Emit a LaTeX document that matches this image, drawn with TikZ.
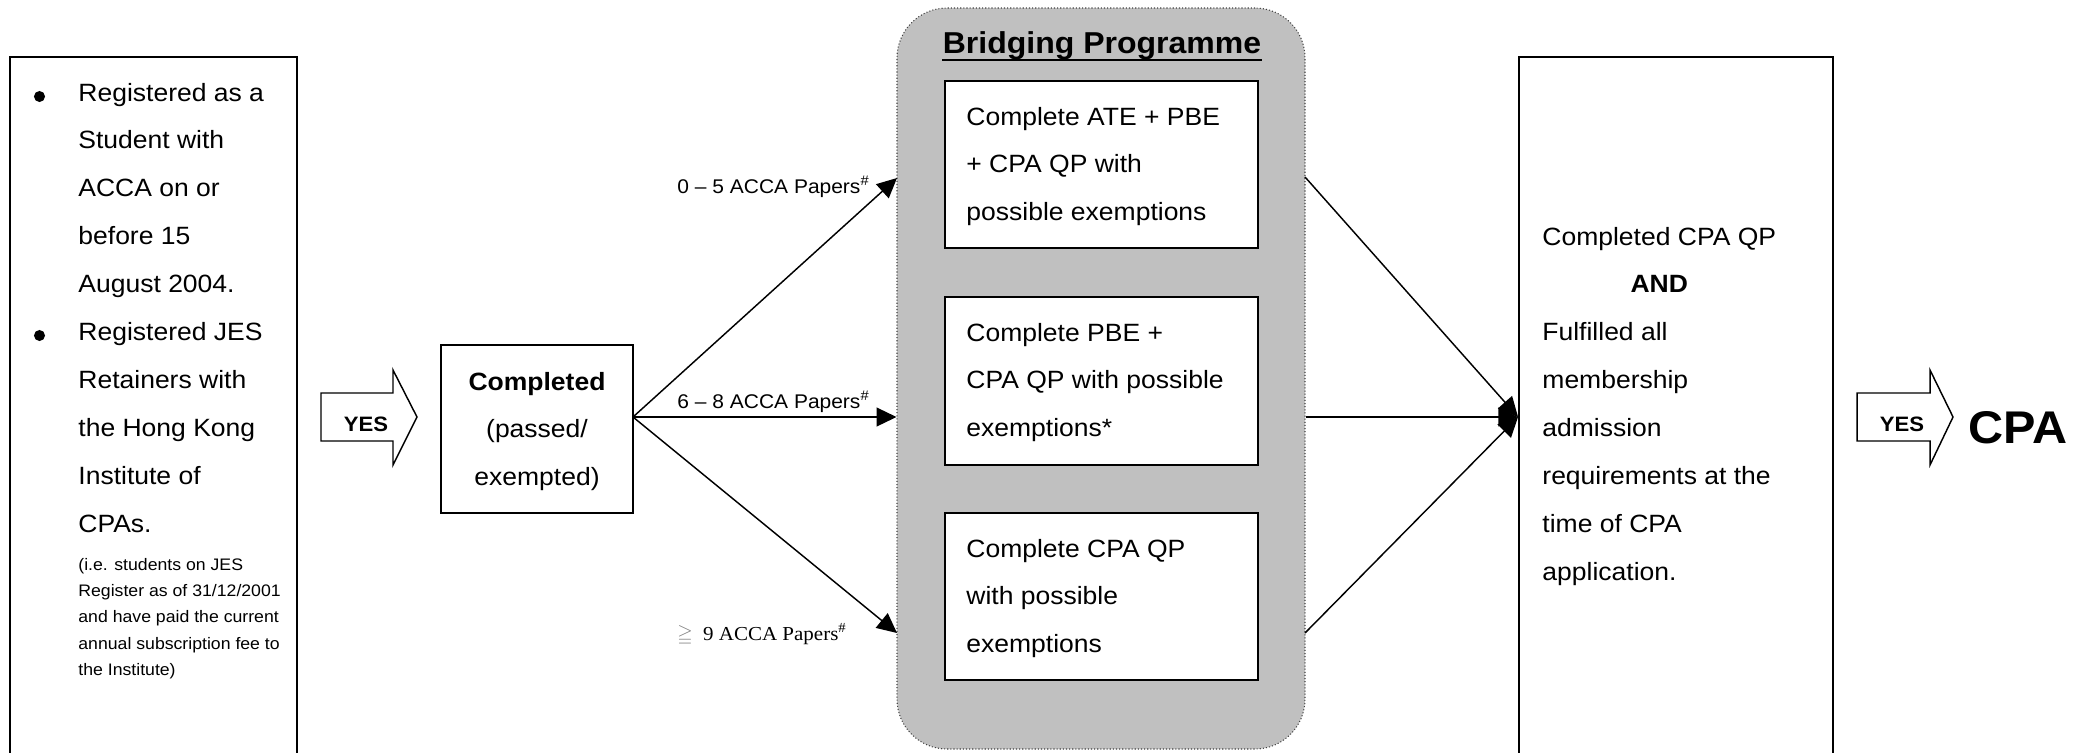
\documentclass[tikz,border=0pt]{standalone}
\usepackage{fontspec}
\usepackage{amssymb}
\setmainfont{Liberation Sans}[FakeStretch=1.06]
\newfontfamily\paperserif{Liberation Serif}[FakeStretch=1.06]
\usetikzlibrary{fit,arrows.meta}
\definecolor{bridgegray}{RGB}{192,192,192}
\tikzset{
  box/.style={draw, line width=0.9pt, inner sep=0pt},
  txt/.style={inner sep=0pt, anchor=base west, font=\fontsize{12}{23}\selectfont},
  papers/.style={inner sep=0pt, anchor=base west, font=\fontsize{9.5}{11}\selectfont},
  route/.style={line width=0.7pt, -{Triangle[length=9.5pt,width=9pt]}},
  yesarrow/.style={draw, line width=0.7pt, fill=white},
  yes/.style={inner sep=0pt, anchor=base, font=\fontsize{10}{12}\selectfont\bfseries},
  dot/.style={circle, fill, inner sep=0pt, minimum size=5.3pt}
}
\begin{document}
\begin{tikzpicture}[x=0.48pt, y=-0.48pt]
\useasboundingbox (0,0) rectangle (2085,752);
\clip (0,0) rectangle (2085,752);

% eligibility
\node (elig) [box, fit={(10,57) (297,790)}] {};
\node (dot1) [dot] at (39.5,96.5) {};
\node (dot2) [dot] at (39.5,335.5) {};
\node (eligtext) [txt] at (78,101) {
\begin{tabular}[t]{@{}l@{}}
  Registered as a \\
  Student with \\
  ACCA on or \\
  before 15 \\
  August 2004. \\
  Registered JES \\
  Retainers with \\
  the Hong Kong \\
  Institute of \\
  CPAs.
\end{tabular}
};
\node (note) [inner sep=0pt, anchor=base west, font=\fontsize{8}{12.7}\selectfont] at (78,570) {
\begin{tabular}[t]{@{}l@{}}
  (i.e. students on JES \\
  Register as of 31/12/2001 \\
  and have paid the current \\
  annual subscription fee to \\
  the Institute)
\end{tabular}
};

\draw [yesarrow] (321,393) -- (393,393) -- (393,370) -- (417,417) -- (393,465) -- (393,441) -- (321,441) -- cycle;
\node (yes1) [yes] at (366,431) {YES};

% completed
\node (done) [box, fit={(441,345) (633,513)}] {};
\node (donetext) [txt, anchor=base] at (537,390) {
\begin{tabular}[t]{@{}c@{}}
  \textbf{Completed} \\
  (passed/ \\
  exempted)
\end{tabular}
};

% bridging programme
\node (bridge) [fit={(897,8) (1305,749)}, inner sep=0pt, draw=black!75, densely dotted, line width=0.5pt, fill=bridgegray, rounded corners=24pt] {};
\node (title) [inner sep=0pt, anchor=base, font=\fontsize{14.5}{17}\selectfont\bfseries] at (1102,53) {Bridging Programme};
\draw [line width=1pt] ([yshift=-3.4pt]title.base west) -- ([yshift=-3.4pt]title.base east);

\node (ate) [box, fill=white, fit={(945,81) (1258,248)}] {};
\node (pbe) [box, fill=white, fit={(945,297) (1258,465)}] {};
\node (qp) [box, fill=white, fit={(945,513) (1258,680)}] {};
\node (atetext) [txt] at (966,125) {
\begin{tabular}[t]{@{}l@{}}
  Complete ATE + PBE \\
  + CPA QP with \\
  possible exemptions
\end{tabular}
};
\node (pbetext) [txt] at (966,341) {
\begin{tabular}[t]{@{}l@{}}
  Complete PBE + \\
  CPA QP with possible \\
  exemptions*
\end{tabular}
};
\node (qptext) [txt] at (966,557) {
\begin{tabular}[t]{@{}l@{}}
  Complete CPA QP \\
  with possible \\
  exemptions
\end{tabular}
};

% qualification
\node (quals) [box, fit={(1519,57) (1833,790)}] {};
\node (qualstext) [txt] at (1542,245) {
\begin{tabular}[t]{@{}l@{}}
  Completed CPA QP \\
  \multicolumn{1}{@{}c@{}}{\textbf{AND}} \\
  Fulfilled all \\
  membership \\
  admission \\
  requirements at the \\
  time of CPA \\
  application.
\end{tabular}
};

\coordinate (split) at (633,417);
\coordinate (in1) at (897,178);
\coordinate (in2) at (bridge.west |- split);
\coordinate (in3) at (897,633);
\coordinate (out1) at (1305,177);
\coordinate (out2) at (bridge.east |- split);
\coordinate (out3) at (1305,633);
\coordinate (join) at (quals.west |- split);
\foreach \i in {1,2,3} {
  \draw [route] (split) -- (in\i);
  \draw [route] (out\i) -- (join);
}
\node (lab1) [papers] at (677,193) {0 – 5 ACCA Papers\textsuperscript{\#}};
\node (lab2) [papers] at (677,408) {6 – 8 ACCA Papers\textsuperscript{\#}};
\node (lab3) [papers] at (677,640) {{\color{gray}$\geqq$}\hspace{5pt}{\paperserif 9 ACCA Papers\textsuperscript{\#}}};

\draw [yesarrow] (1857,393) -- (1930,393) -- (1930,370) -- (1953,417) -- (1930,465) -- (1930,441) -- (1857,441) -- cycle;
\node (yes2) [yes] at (1902,431) {YES};
\node (cpa) [inner sep=0pt, anchor=base, font=\fontsize{22}{26}\selectfont\bfseries] at (2018,443) {CPA};
\end{tikzpicture}
\end{document}
